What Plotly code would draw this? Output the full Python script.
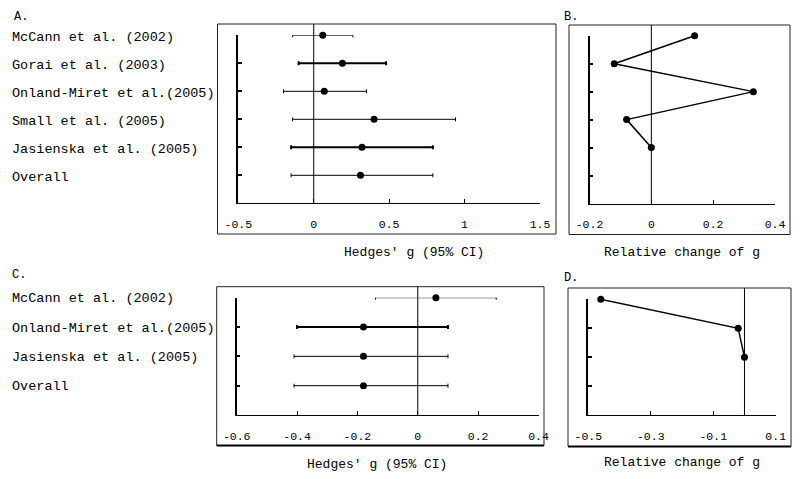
import plotly.graph_objects as go

# ---------------- data ----------------
studies_A = ["McCann et al. (2002)", "Gorai et al. (2003)", "Onland-Miret et al.(2005)",
             "Small et al. (2005)", "Jasienska et al. (2005)", "Overall"]
g_A = [0.06, 0.19, 0.07, 0.40, 0.32, 0.31]
lo_A = [-0.14, -0.10, -0.20, -0.14, -0.15, -0.15]
hi_A = [0.26, 0.48, 0.35, 0.94, 0.79, 0.79]

rel_B = [0.14, -0.12, 0.33, -0.08, 0.00]

studies_C = ["McCann et al. (2002)", "Onland-Miret et al.(2005)",
             "Jasienska et al. (2005)", "Overall"]
g_C = [0.06, -0.18, -0.18, -0.18]
lo_C = [-0.14, -0.40, -0.41, -0.41]
hi_C = [0.26, 0.10, 0.10, 0.10]

rel_D = [-0.46, -0.02, 0.00]

ticks_A = [-0.5, 0, 0.5, 1, 1.5]
ticklabels_A = ["-0.5", "0", "0.5", "1", "1.5"]
ticks_B = [-0.2, 0, 0.2, 0.4]
ticklabels_B = ["-0.2", "0", "0.2", "0.4"]
ticks_C = [-0.6, -0.4, -0.2, 0, 0.2, 0.4]
ticklabels_C = ["-0.6", "-0.4", "-0.2", "0", "0.2", "0.4"]
ticks_D = [-0.5, -0.3, -0.1, 0.1]
ticklabels_D = ["-0.5", "-0.3", "-0.1", "0.1"]

xtitle_g = "Hedges' g (95% CI)"
xtitle_rel = "Relative change of g"

# ---------------- styling ----------------
OFF = 8  # page body margin
W, H = 800 - 2 * OFF, 479 - 2 * OFF
FONT = "Liberation Mono, Courier New, monospace"
thick_A = {"Gorai et al. (2003)", "Jasienska et al. (2005)"}
thick_C = {"Onland-Miret et al.(2005)"}


def px(x):
    return (x - OFF) / W


def py(y):
    return 1 - (y - OFF) / H


fig = go.Figure()


def forest(names, g, lo, hi, thick, xa, ya):
    for i, name in enumerate(names):
        w = 2 if name in thick else 1
        fig.add_trace(go.Scatter(
            x=[g[i]], y=[i], mode="markers", xaxis=xa, yaxis=ya, cliponaxis=False,
            marker=dict(symbol="circle", size=7, color="black"),
            error_x=dict(type="data", symmetric=False,
                         array=[hi[i] - g[i]], arrayminus=[g[i] - lo[i]],
                         color="black", thickness=w, width=2),
            showlegend=False, hoverinfo="skip"))


forest(studies_A, g_A, lo_A, hi_A, thick_A, "x", "y")
fig.add_trace(go.Scatter(x=rel_B, y=list(range(len(rel_B))), mode="lines+markers",
                         xaxis="x2", yaxis="y2", cliponaxis=False,
                         line=dict(color="black", width=1.5),
                         marker=dict(size=7, color="black"), showlegend=False))
forest(studies_C, g_C, lo_C, hi_C, thick_C, "x3", "y3")
fig.add_trace(go.Scatter(x=rel_D, y=list(range(len(rel_D))), mode="lines+markers",
                         xaxis="x4", yaxis="y4", cliponaxis=False,
                         line=dict(color="black", width=1.5),
                         marker=dict(size=7, color="black"), showlegend=False))

panels = {
    "": dict(x0=238.3, x1=540, ytop=35.3, ybot=203.3, nslots=6, rng=[-0.5, 1.5],
             tv=ticks_A, tt=ticklabels_A, box=(217.5, 24, 556, 234)),
    "2": dict(x0=589.5, x1=775, ytop=35.7, ybot=203.5, nslots=6, rng=[-0.2, 0.4],
              tv=ticks_B, tt=ticklabels_B, box=(569, 25, 790, 234.5)),
    "3": dict(x0=236.7, x1=538.5, ytop=297.7, ybot=415, nslots=4, rng=[-0.6, 0.4],
              tv=ticks_C, tt=ticklabels_C, box=(216.7, 286.7, 544, 445.5)),
    "4": dict(x0=588.3, x1=775.7, ytop=299.3, ybot=415.3, nslots=4, rng=[-0.5, 0.1],
              tv=ticks_D, tt=ticklabels_D, box=(568, 288, 791, 446.5)),
}

layout = dict(template="none", width=W, height=H, margin=dict(l=0, r=0, t=0, b=0, pad=0),
              paper_bgcolor="white", plot_bgcolor="rgba(0,0,0,0)",
              font=dict(family=FONT, color="black"), showlegend=False)
shapes = []
for k, p in panels.items():
    layout["xaxis" + k] = dict(
        domain=[px(p["x0"]), px(p["x1"])], range=p["rng"], anchor="y" + k,
        automargin=False,
        showline=True, linecolor="black", linewidth=1, ticks="inside", ticklen=4,
        tickcolor="black", tickwidth=1, tickvals=p["tv"], ticktext=p["tt"],
        tickfont=dict(family=FONT, size=11.5, color="black"),
        ticklabelstandoff=10, showgrid=False, zeroline=False, fixedrange=True)
    layout["yaxis" + k] = dict(
        domain=[py(p["ybot"]), py(p["ytop"])], range=[p["nslots"], 0], anchor="x" + k,
        automargin=False,
        showline=True, linecolor="black", linewidth=1.5, ticks="inside", ticklen=4,
        tickcolor="black", tickwidth=1.5, tickvals=list(range(p["nslots"])),
        showticklabels=False, showgrid=False, zeroline=False, fixedrange=True)
    bx0, by0, bx1, by1 = p["box"]
    shapes.append(dict(type="rect", xref="paper", yref="paper",
                       x0=px(bx0), x1=px(bx1), y0=py(by1), y1=py(by0),
                       line=dict(color="#222", width=1)))
    shapes.append(dict(type="line", xref="x" + k if k else "x", yref="paper",
                       x0=0, x1=0, y0=py(p["ybot"]), y1=py(by0),
                       line=dict(color="black", width=1)))

for k in ["3", "4"]:
    bx0, by0, bx1, by1 = panels[k]["box"]
    shapes.append(dict(type="line", xref="paper", yref="paper",
                       x0=px(bx0), x1=px(bx1), y0=py(by1), y1=py(by1),
                       line=dict(color="black", width=2)))

layout["shapes"] = shapes

ann = []
for i, s in enumerate(studies_A):
    ann.append(dict(text=s, xref="paper", yref="y", x=px(10), y=i, xanchor="left",
                    yanchor="middle", yshift=-2, showarrow=False,
                    font=dict(family=FONT, size=13.5, color="black")))
for i, s in enumerate(studies_C):
    ann.append(dict(text=s, xref="paper", yref="y3", x=px(10), y=i, xanchor="left",
                    yanchor="middle", yshift=-1, showarrow=False,
                    font=dict(family=FONT, size=13.5, color="black")))

for txt, x, y, anch in [("A.", 12, 8, "top"), ("B.", 562, 8, "top"),
                        ("C.", 10, 275, "middle"), ("D.", 562, 278, "middle")]:
    ann.append(dict(text=txt, xref="paper", yref="paper", x=px(x), y=py(y),
                    xanchor="left", yanchor=anch, showarrow=False,
                    font=dict(family=FONT, size=12, color="black")))

for txt, x, y in [(xtitle_g, 414, 252), (xtitle_rel, 682, 252),
                  (xtitle_g, 377, 464), (xtitle_rel, 682, 462)]:
    ann.append(dict(text=txt, xref="paper", yref="paper", x=px(x), y=py(y),
                    xanchor="center", yanchor="middle", showarrow=False,
                    font=dict(family=FONT, size=13, color="black")))

layout["annotations"] = ann
fig.update_layout(**layout)
fig.write_html("out.html")
